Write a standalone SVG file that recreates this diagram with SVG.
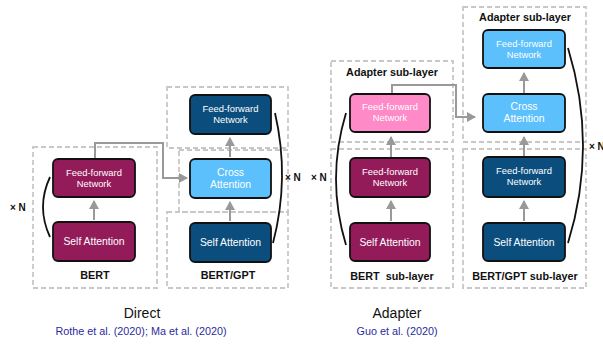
<svg xmlns="http://www.w3.org/2000/svg" width="603" height="345" viewBox="0 0 603 345">
<defs>
<style>
.dash{fill:none;stroke:#c8c8c8;stroke-width:1.8;stroke-dasharray:5 3}
.box{stroke:#111;stroke-width:1.8}
.maroon{fill:#941b5a}
.dblue{fill:#0b4e7e}
.lblue{fill:#5bc0fb}
.pink{fill:#ff8ac8}
.t{font-family:"Liberation Sans",Arial,sans-serif;fill:#fff;text-anchor:middle}
.ff{font-size:9.4px}
.sa{font-size:10.4px}
.lbl{font-family:"Liberation Sans",Arial,sans-serif;font-weight:bold;font-size:10.8px;fill:#111;text-anchor:middle}
.xn{font-family:"Liberation Sans",Arial,sans-serif;font-weight:bold;font-size:10px;fill:#111}
.cap{font-family:"Liberation Sans",Arial,sans-serif;font-size:14px;fill:#111;text-anchor:middle}
.cite{font-family:"Liberation Sans",Arial,sans-serif;font-size:10.8px;fill:#2b2b9e;text-anchor:middle}
.arr{fill:none;stroke:#999;stroke-width:2;marker-end:url(#ah)}
.brk{fill:none;stroke:#111;stroke-width:1.8}
</style>
<marker id="ah" markerUnits="userSpaceOnUse" markerWidth="10" markerHeight="10" refX="8" refY="5" orient="auto">
<path d="M0,0 L9,5 L0,10 Z" fill="#999"/>
</marker>
</defs>

<!-- dashed containers -->
<g id="containers">
<rect class="dash" x="33" y="147" width="124" height="141"/>
<rect class="dash" x="167" y="87" width="121" height="61"/>
<rect class="dash" x="179" y="150" width="109" height="62"/>
<rect class="dash" x="167" y="212" width="121" height="76"/>
<rect class="dash" x="331" y="61" width="122" height="81"/>
<rect class="dash" x="331" y="149" width="122" height="139"/>
<rect class="dash" x="463" y="7" width="123" height="135"/>
<rect class="dash" x="463" y="149" width="123" height="139"/>
</g>

<!-- connectors -->
<g id="connectors">
<line class="arr" x1="94" y1="220" x2="94" y2="201"/>
<polyline class="arr" points="95,159 95,143 163,143 163,178 187,178"/>
<line class="arr" x1="230" y1="157" x2="230" y2="138"/>
<line class="arr" x1="230" y1="221" x2="230" y2="202"/>
<line class="arr" x1="391" y1="157" x2="391" y2="137"/>
<line class="arr" x1="391" y1="221" x2="391" y2="201"/>
<polyline class="arr" points="392,94 392,85 456,85 456,117 475,117"/>
<line class="arr" x1="524" y1="93" x2="524" y2="73"/>
<line class="arr" x1="524" y1="156" x2="524" y2="137"/>
<line class="arr" x1="524" y1="221" x2="524" y2="201"/>
</g>

<!-- Direct: BERT -->
<g id="d-bert-ffn">
<rect class="box maroon" x="53" y="159" width="82" height="38" rx="5"/>
<text class="t ff" x="94" y="176">Feed-forward</text>
<text class="t ff" x="94" y="187">Network</text>
</g>
<g id="d-bert-sa">
<rect class="box maroon" x="53" y="222" width="82" height="39" rx="5"/>
<text class="t sa" x="94" y="245">Self Attention</text>
</g>
<g id="d-bert-bracket">
<path class="brk" d="M50,177 Q36,207 50,237"/>
<text class="xn" x="10" y="211">× N</text>
</g>
<text class="lbl" x="95" y="279">BERT</text>

<!-- Direct: BERT/GPT -->
<g id="d-gpt-ffn">
<rect class="box dblue" x="190" y="95" width="81" height="39" rx="5"/>
<text class="t ff" x="230.500" y="112">Feed-forward</text>
<text class="t ff" x="230.500" y="123">Network</text>
</g>
<g id="d-gpt-cross">
<rect class="box lblue" x="190" y="159" width="81" height="39" rx="5"/>
<text class="t sa" x="230.500" y="176">Cross</text>
<text class="t sa" x="230.500" y="188">Attention</text>
</g>
<g id="d-gpt-sa">
<rect class="box dblue" x="190" y="223" width="81" height="39" rx="5"/>
<text class="t sa" x="230.500" y="246">Self Attention</text>
</g>
<g id="d-gpt-bracket">
<path class="brk" d="M275,113 Q290,178 273,243"/>
<text class="xn" x="285" y="181">× N</text>
</g>
<text class="lbl" x="228" y="279">BERT/GPT</text>

<!-- Adapter: left -->
<text class="lbl" x="392" y="76">Adapter sub-layer</text>
<g id="a-bert-adapter">
<rect class="box pink" x="350" y="94" width="80" height="38" rx="5"/>
<text class="t ff" x="390" y="110">Feed-forward</text>
<text class="t ff" x="390" y="121">Network</text>
</g>
<g id="a-bert-ffn">
<rect class="box maroon" x="350" y="158" width="80" height="39" rx="5"/>
<text class="t ff" x="390" y="175">Feed-forward</text>
<text class="t ff" x="390" y="186">Network</text>
</g>
<g id="a-bert-sa">
<rect class="box maroon" x="350" y="223" width="80" height="38" rx="5"/>
<text class="t sa" x="390" y="245.500">Self Attention</text>
</g>
<g id="a-bert-bracket">
<path class="brk" d="M346,113 Q326,179 346,245"/>
<text class="xn" x="311" y="181">× N</text>
</g>
<text class="lbl" x="392" y="280" xml:space="preserve">BERT  sub-layer</text>

<!-- Adapter: right -->
<text class="lbl" x="525" y="21">Adapter sub-layer</text>
<g id="a-gpt-adapter-ffn">
<rect class="box lblue" x="483" y="30" width="82" height="38" rx="5"/>
<text class="t ff" x="524" y="47">Feed-forward</text>
<text class="t ff" x="524" y="58">Network</text>
</g>
<g id="a-gpt-cross">
<rect class="box lblue" x="483" y="94" width="82" height="38" rx="5"/>
<text class="t sa" x="524" y="110">Cross</text>
<text class="t sa" x="524" y="122">Attention</text>
</g>
<g id="a-gpt-ffn">
<rect class="box dblue" x="483" y="157" width="82" height="40" rx="5"/>
<text class="t ff" x="524" y="174">Feed-forward</text>
<text class="t ff" x="524" y="185">Network</text>
</g>
<g id="a-gpt-sa">
<rect class="box dblue" x="483" y="223" width="82" height="38" rx="5"/>
<text class="t sa" x="524" y="245.500">Self Attention</text>
</g>
<g id="a-gpt-bracket">
<path class="brk" d="M568,48 Q598,146 568,243"/>
<text class="xn" x="589" y="150">× N</text>
</g>
<text class="lbl" x="525" y="280">BERT/GPT sub-layer</text>

<!-- captions -->
<text class="cap" x="142" y="318">Direct</text>
<text class="cap" x="397" y="318">Adapter</text>
<text class="cite" x="141" y="335">Rothe et al. (2020); Ma et al. (2020)</text>
<text class="cite" x="397" y="335">Guo et al. (2020)</text>
</svg>
